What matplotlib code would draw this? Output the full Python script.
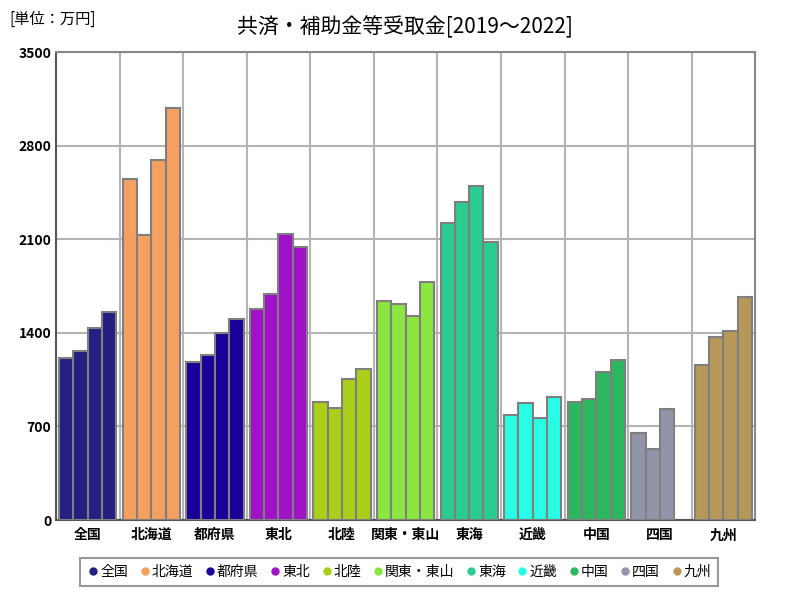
import numpy as np
import matplotlib.pyplot as plt
from matplotlib.lines import Line2D

plt.rcParams['font.family'] = ['Noto Sans CJK JP', 'DejaVu Sans']

regions = ["全国", "北海道", "都府県", "東北", "北陸", "関東・東山",
           "東海", "近畿", "中国", "四国", "九州"]
years = [2019, 2020, 2021, 2022]

# 万円, 2019..2022 (四国 has no 2022 value)
values = {
    "全国": [1214, 1264, 1438, 1558],
    "北海道": [2550, 2131, 2692, 3084],
    "都府県": [1179, 1234, 1396, 1503],
    "東北": [1578, 1693, 2141, 2042],
    "北陸": [885, 840, 1055, 1129],
    "関東・東山": [1638, 1613, 1523, 1778],
    "東海": [2218, 2381, 2500, 2077],
    "近畿": [785, 875, 765, 920],
    "中国": [880, 907, 1105, 1199],
    "四国": [651, 533, 832, np.nan],
    "九州": [1159, 1371, 1413, 1668],
}
colors = ["#241f80", "#f5a060", "#1a0099", "#a012c8", "#aacf18", "#8ce640",
          "#2acc90", "#28fde6", "#2db860", "#9295aa", "#b89858"]

yticks = [0, 700, 1400, 2100, 2800, 3500]

fig = plt.figure(figsize=(8, 6), dpi=100)
ax = fig.add_axes([0.07, 0.1333, 0.874, 0.78])

bw = 0.225
for i, (reg, col) in enumerate(zip(regions, colors)):
    vals = values[reg]
    for j, v in enumerate(vals):
        if np.isnan(v):
            continue
        x = i - 1.5 * bw + j * bw
        ax.bar(x, v, width=bw, color=col, edgecolor="#7f7f7f",
               linewidth=1.5, zorder=3)

ax.set_xlim(-0.5, len(regions) - 0.5)
ax.set_ylim(0, 3500)
ax.set_yticks(yticks)
ax.set_yticklabels([str(t) for t in yticks], fontsize=10, fontweight="bold")
ax.set_xticks(range(len(regions)))
ax.set_xticklabels(regions, fontsize=10, fontweight="bold")
ax.set_xticks(np.arange(0.5, len(regions) - 0.5, 1), minor=True)
ax.tick_params(axis="both", which="both", length=0)
ax.tick_params(axis="x", pad=6)
ax.grid(axis="y", which="major", color="#b4b4b4", linewidth=1.5, zorder=0)
ax.grid(axis="x", which="minor", color="#b4b4b4", linewidth=1.5, zorder=0)
ax.set_axisbelow(True)

for s in ["left", "bottom"]:
    ax.spines[s].set_color("#555555")
    ax.spines[s].set_linewidth(1.5)
for s in ["top", "right"]:
    ax.spines[s].set_color("#888888")
    ax.spines[s].set_linewidth(1.5)

fig.text(0.506, 0.955, "共済・補助金等受取金[2019～2022]", ha="center",
         va="center", fontsize=15)
fig.text(0.012, 0.968, "[単位：万円]", ha="left", va="center", fontsize=11)

handles = [Line2D([], [], marker="o", linestyle="", color=c, markersize=5)
           for c in colors]
leg = fig.legend(handles, regions, loc="center", bbox_to_anchor=(0.499, 0.047),
                 ncol=len(regions), frameon=True, fancybox=False,
                 fontsize=10, handletextpad=0.05, columnspacing=0.75,
                 borderpad=0.5, handlelength=0.9)
leg.get_frame().set_edgecolor("#808080")
leg.get_frame().set_linewidth(1.5)

fig.savefig("out.png", dpi=100)
